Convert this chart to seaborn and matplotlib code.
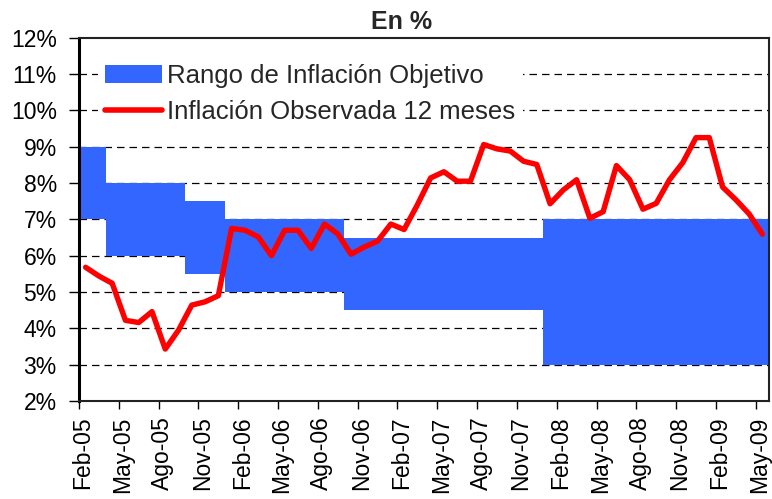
import numpy as np
import matplotlib
matplotlib.use("Agg")
import matplotlib.pyplot as plt
import matplotlib.transforms as mtransforms
from matplotlib.patches import Patch
from matplotlib.lines import Line2D
import seaborn as sns

# monthly data, Feb-05 .. May-09 (52 months)
tick_labels = ["Feb-05", "May-05", "Ago-05", "Nov-05", "Feb-06", "May-06",
               "Ago-06", "Nov-06", "Feb-07", "May-07", "Ago-07", "Nov-07",
               "Feb-08", "May-08", "Ago-08", "Nov-08", "Feb-09", "May-09"]

observed = [5.68, 5.44, 5.24, 4.22, 4.16, 4.46, 3.43, 3.95, 4.64, 4.73,
            4.90, 6.75, 6.70, 6.52, 6.00, 6.70, 6.70, 6.20, 6.87, 6.60,
            6.04, 6.24, 6.40, 6.87, 6.72, 7.40, 8.14, 8.31, 8.05, 8.05,
            9.06, 8.94, 8.88, 8.60, 8.51, 7.43, 7.81, 8.09, 7.03, 7.21,
            8.48, 8.09, 7.28, 7.44, 8.09, 8.56, 9.25, 9.25, 7.89, 7.54,
            7.15, 6.59]

# target range (lower / upper) per month
target_low = [7.0] * 2 + [6.0] * 6 + [5.5] * 3 + [5.0] * 9 + [4.5] * 15 + [3.0] * 17
target_high = [9.0] * 2 + [8.0] * 6 + [7.5] * 3 + [7.0] * 9 + [6.5] * 15 + [7.0] * 17

label_band = "Rango de Inflación Objetivo"
label_line = "Inflación Observada 12 meses"

blue = "#3366FF"
red = "#FF0000"

sns.set_style("white")
plt.rcParams["font.family"] = ["Liberation Sans", "DejaVu Sans"]

fig = plt.figure(figsize=(7.72, 4.99), dpi=100)
ax = fig.add_axes([79 / 772, 1 - 401 / 499, 690 / 772, 363.3 / 499])

months = np.arange(len(observed))
low = np.array(target_low)
high = np.array(target_high)

ax.bar(months, high - low, bottom=low, width=1.0, color=blue,
       linewidth=0, zorder=2)
sns.lineplot(x=months, y=observed, ax=ax, color=red, linewidth=3.9,
             zorder=3, legend=False)

ax.set_xlim(-0.5, len(observed) - 0.5)
ax.set_ylim(2, 12)

ax.set_yticks(np.arange(2, 13, 1))
ax.set_yticklabels([f"{v}%" for v in range(2, 13)], fontsize=16.5)
ax.set_xticks(np.arange(0, len(observed), 3) - 0.5)
ax.set_xticklabels(tick_labels, rotation=90, fontsize=16.5)

ax.tick_params(axis="y", direction="out", length=7, width=1, pad=9,
               left=True, colors="black")
ax.tick_params(axis="x", direction="out", length=6, width=1, pad=5,
               bottom=True, colors="black")

# labels sit a little right of their tick in the original
shift = mtransforms.ScaledTranslation(4 / 100, 0, fig.dpi_scale_trans)
for lab in ax.get_xticklabels():
    lab.set_transform(lab.get_transform() + shift)

for y in range(3, 12):
    ax.axhline(y, color="black", linewidth=0.9, linestyle=(0, (6, 4)),
               zorder=1)

for side in ["top", "right", "bottom"]:
    ax.spines[side].set_visible(True)
    ax.spines[side].set_color("#222222")
    ax.spines[side].set_linewidth(1.5)
ax.spines["left"].set_color("black")
ax.spines["left"].set_linewidth(2.2)

ax.set_xlabel("")
ax.set_ylabel("")

handles = [Patch(facecolor=blue, edgecolor="none"),
           Line2D([], [], color=red, linewidth=4)]
leg = ax.legend(handles, [label_band, label_line], loc="upper left",
                bbox_to_anchor=(0.027, 0.95), borderaxespad=0,
                frameon=True, facecolor="white", edgecolor="none",
                framealpha=1, fancybox=False, fontsize=18.5,
                handlelength=2.2, handletextpad=0.2, labelspacing=0.5,
                borderpad=0.3)
leg.set_zorder(5)

fig.text(402 / 772, 1 - 22 / 499, "En %", ha="center", va="center",
         fontsize=18, fontweight="bold")

fig.savefig("out.png", dpi=100)
